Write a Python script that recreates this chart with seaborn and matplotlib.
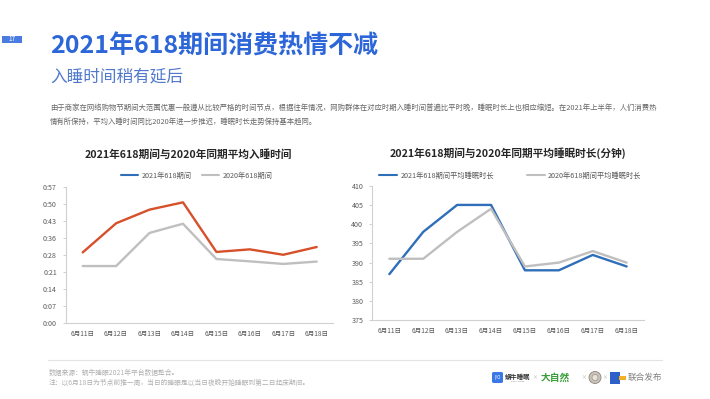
import matplotlib
matplotlib.use("Agg")
import matplotlib.pyplot as plt
from matplotlib.lines import Line2D
from matplotlib.patches import Rectangle, FancyBboxPatch, Ellipse
from matplotlib.ticker import FixedLocator, FuncFormatter
import pandas as pd
import seaborn as sns

# ---- data ----
dates = ["6月11日", "6月12日", "6月13日", "6月14日", "6月15日", "6月16日", "6月17日", "6月18日"]
# average bedtime, minutes after midnight
bedtime_2021 = [29.9, 42.3, 48.1, 51.2, 30.1, 31.2, 28.9, 32.2]
bedtime_2020 = [24.1, 24.1, 38.2, 42.1, 27.1, 26.1, 25.0, 26.0]
# average sleep duration, minutes
sleep_2021 = [387, 398, 405, 405, 388, 388, 392, 389]
sleep_2020 = [391, 391, 398, 404, 389, 390, 393, 390]

bed_labels = ["2021年618期间", "2020年618期间"]
sleep_labels = ["2021年618期间平均睡眠时长", "2020年618期间平均睡眠时长"]
bed_ticks = [i * 7.2 for i in range(9)]   # excel major unit 0.005 day
sleep_ticks = [375, 380, 385, 390, 395, 400, 405, 410]

RED = "#D6502A"
BLUE = "#2F6EB8"
GRAY = "#BFBFBF"
TXT = "#595959"

sns.set_style("white")
plt.rcParams["font.family"] = ["Noto Sans CJK SC", "DejaVu Sans"]

W, H = 710, 399
fig = plt.figure(figsize=(W / 100, H / 100), dpi=100)


def fx(x):
    return x / W


def fy(y):
    return 1 - y / H


def style_axes(ax):
    for s in ["top", "right"]:
        ax.spines[s].set_visible(False)
    for s in ["left", "bottom"]:
        ax.spines[s].set_color("#D0D0D0")
        ax.spines[s].set_linewidth(0.8)
    ax.tick_params(axis="y", length=2.5, width=0.6, color="#C8C8C8",
                   labelsize=5.1, labelcolor=TXT, pad=4, left=True)
    ax.tick_params(axis="x", length=0, labelsize=4.8, labelcolor=TXT, pad=5)
    ax.set_xlim(-0.5, len(dates) - 0.5)
    ax.set_xlabel("")
    ax.set_ylabel("")


# ---- left chart: bedtime ----
df_bed = pd.DataFrame({
    "date": dates * 2,
    "value": bedtime_2021 + bedtime_2020,
    "series": [bed_labels[0]] * len(dates) + [bed_labels[1]] * len(dates),
})
ax1 = fig.add_axes([fx(66), fy(322.7), fx(333.4 - 66), (322.7 - 187.3) / H])
sns.lineplot(data=df_bed, x="date", y="value", hue="series", sort=False,
             palette={bed_labels[0]: RED, bed_labels[1]: GRAY},
             linewidth=1.7, legend=False, ax=ax1)
ax1.set_ylim(0, 57.6)
ax1.yaxis.set_major_locator(FixedLocator(bed_ticks))
ax1.yaxis.set_major_formatter(FuncFormatter(lambda v, p: "%d:%02d" % (int(v) // 60, int(v) % 60)))
style_axes(ax1)

fig.text(fx(188.5), fy(155), "2021年618期间与2020年同期平均入睡时间",
         ha="center", va="center", fontsize=7.7, fontweight="bold", color="#262626")
# excel legend shows the 2021 series in blue
h1 = [Line2D([], [], color=BLUE, lw=1.5), Line2D([], [], color=GRAY, lw=1.5)]
fig.legend(h1, bed_labels, loc="center", bbox_to_anchor=(fx(197), fy(175.5)),
           ncol=2, frameon=False, fontsize=5.2, handlelength=2.4,
           handletextpad=0.5, columnspacing=1.4, labelcolor=TXT)

# ---- right chart: sleep duration ----
df_sleep = pd.DataFrame({
    "date": dates * 2,
    "value": sleep_2021 + sleep_2020,
    "series": [sleep_labels[0]] * len(dates) + [sleep_labels[1]] * len(dates),
})
ax2 = fig.add_axes([fx(372.4), fy(320.3), fx(643.6 - 372.4), (320.3 - 185.7) / H])
sns.lineplot(data=df_sleep, x="date", y="value", hue="series", sort=False,
             palette={sleep_labels[0]: BLUE, sleep_labels[1]: GRAY},
             linewidth=1.7, legend=False, ax=ax2)
ax2.set_ylim(375, 410)
ax2.yaxis.set_major_locator(FixedLocator(sleep_ticks))
style_axes(ax2)

fig.text(fx(507.5), fy(153.5), "2021年618期间与2020年同期平均睡眠时长(分钟)",
         ha="center", va="center", fontsize=7.7, fontweight="bold", color="#262626")
h2 = [Line2D([], [], color=BLUE, lw=1.5), Line2D([], [], color=GRAY, lw=1.5)]
fig.legend(h2, sleep_labels, loc="center", bbox_to_anchor=(fx(510.5), fy(175.5)),
           ncol=2, frameon=False, fontsize=5.2, handlelength=2.4,
           handletextpad=0.5, columnspacing=4.6, labelcolor=TXT)

# ---- page header ----
fig.add_artist(Rectangle((fx(2), fy(42.5)), fx(20), 6.5 / H, transform=fig.transFigure,
                         facecolor="#4A7BE0", edgecolor="none"))
fig.text(fx(12), fy(39.2), "17", ha="center", va="center", fontsize=4.6, color="white")
fig.text(fx(50), fy(46), "2021年618期间消费热情不减", ha="left", va="center",
         fontsize=18, fontweight="bold", color="#2D66D8")
fig.text(fx(50), fy(77), "入睡时间稍有延后", ha="left", va="center",
         fontsize=12, color="#5079CC")
para = ("由于商家在网络购物节期间大范围优惠一般遵从比较严格的时间节点，根据往年情况，网购群体在对应时期入睡时间普遍比平时晚，"
        "睡眠时长上也相应缩短。在2021年上半年，人们消费热\n"
        "情有所保持，平均入睡时间同比2020年进一步推迟，睡眠时长走势保持基本趋同。")
fig.text(fx(50), fy(104), para, ha="left", va="top", fontsize=5.3,
         color="#666666", linespacing=2.0)

# ---- footer ----
fig.add_artist(Line2D([fx(48), fx(662)], [fy(360), fy(360)], transform=fig.transFigure,
                      color="#E3E3E3", lw=0.8))
fig.text(fx(49), fy(373), "数据来源：蜗牛睡眠2021年平台数据整合。", ha="left", va="center",
         fontsize=4.9, color="#B0B0B0")
fig.text(fx(49), fy(382.5), "注：以6月18日为节点前推一周，当日的睡眠是以当日夜晚开始睡眠到第二日起床期间。",
         ha="left", va="center", fontsize=4.9, color="#B0B0B0")

# partner logos, drawn roughly
fig.add_artist(FancyBboxPatch((fx(492), fy(383)), fx(11), 11 / H, transform=fig.transFigure,
                              boxstyle="round,pad=0,rounding_size=0.003",
                              facecolor="#3A78E8", edgecolor="none"))
fig.text(fx(497.5), fy(377.5), "I/O", ha="center", va="center", fontsize=3.2, color="white")
fig.text(fx(505), fy(376), "蜗牛睡眠", ha="left", va="center", fontsize=4.6,
         fontweight="bold", color="#333333")
fig.text(fx(511), fy(381.5), "SNAIL SLEEP", ha="left", va="center", fontsize=1.6, color="#777777")
fig.text(fx(535), fy(378), "×", ha="center", va="center", fontsize=3.5, color="#AAAAAA")
fig.text(fx(541), fy(377.5), "大自然", ha="left", va="center", fontsize=7,
         fontweight="bold", color="#3A9D3A")
fig.text(fx(584), fy(378), "×", ha="center", va="center", fontsize=3.5, color="#AAAAAA")
fig.add_artist(Ellipse((fx(595), fy(377.5)), fx(12), 12 / H, transform=fig.transFigure,
                       facecolor="#C9C2BA", edgecolor="#8E8478", lw=0.6))
fig.add_artist(Ellipse((fx(595), fy(377.5)), fx(6), 6 / H, transform=fig.transFigure,
                       facecolor="#E8E2DA", edgecolor="#8E8478", lw=0.4))
fig.text(fx(605), fy(378), "×", ha="center", va="center", fontsize=3.5, color="#AAAAAA")
fig.add_artist(Rectangle((fx(610), fy(384)), fx(10), 12 / H, transform=fig.transFigure,
                         facecolor="#2F5FC9", edgecolor="none"))
fig.add_artist(Rectangle((fx(619), fy(380)), fx(7), 4 / H, transform=fig.transFigure,
                         facecolor="#F3B224", edgecolor="none"))
fig.text(fx(628), fy(377.5), "联合发布", ha="left", va="center", fontsize=6.2, color="#808080")

fig.savefig("out.png", dpi=100)
